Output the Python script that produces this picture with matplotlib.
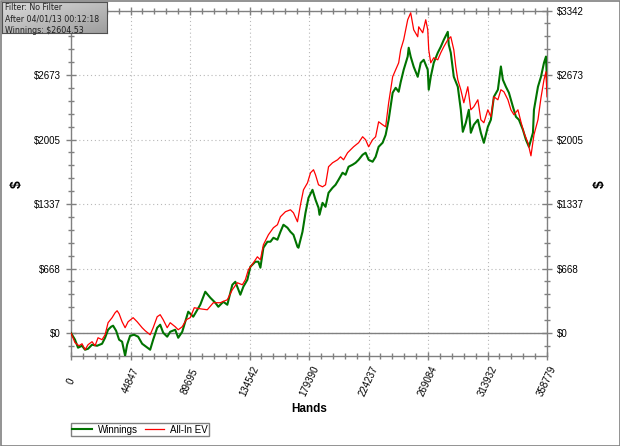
import numpy as np
import matplotlib
matplotlib.use("Agg")
import matplotlib.pyplot as plt
from matplotlib.patches import Rectangle
from matplotlib.ticker import MultipleLocator

plt.rcParams['font.family'] = ['Liberation Sans', 'DejaVu Sans']

# hands / winnings
win_hands = [0, 3021, 5287, 8308, 10574, 12840, 15861, 19638, 23414, 25680, 27946, 30212, 31723,
             33989, 36254, 38520, 40786, 42297, 44563, 47584, 50605, 53627, 56648, 59669, 61935,
             64956, 67222, 69488, 72509, 74775, 78551, 80817, 83839, 86105, 88370, 92147, 95168,
             97434, 101210, 104987, 108763, 111029, 114806, 117827, 121604, 123870, 127646, 129912,
             132933, 135199, 138975, 141241, 142752, 145018, 148039, 150305, 152571, 155592, 157858,
             160124, 163145, 165411, 167677, 170698, 171454, 174475, 176741, 179006, 182027, 184293,
             186559, 187314, 189580, 191846, 194112, 197133, 199399, 201665, 204686, 206952, 209218,
             212239, 214505, 216771, 219792, 222058, 224324, 227345, 229611, 231877, 234898, 237164,
             239430, 242451, 244717, 246983, 248494, 250760, 253781, 254536, 256047, 258313, 261334,
             263600, 265866, 268887, 269643, 271153, 273419, 276441, 278707, 280972, 283994, 284749,
             286260, 288526, 291547, 293813, 295324, 297590, 299855, 301366, 303632, 306653, 308919,
             311185, 314206, 316472, 318738, 321759, 324025, 325536, 327802, 330067, 333088, 335354,
             337620, 340642, 342907, 345173, 348194, 348950, 351971, 354237, 356503, 358014, 358779]
winnings = [0, -69, -152, -132, -173, -163, -121, -132, -111, -49, 34, 65, 76,
            24, -69, -90, -235, -121, -28, -18, -38, -111, -142, -173, -69,
            55, 86, 3, -38, 13, 34, -49, 13, 117, 221, 169, 241,
            293, 428, 366, 314, 272, 324, 293, 500, 531, 397, 480,
            552, 687, 739, 739, 677, 884, 946, 946, 987, 967, 1049,
            1122, 1091, 1049, 1018, 894, 884, 1049, 1246, 1401, 1484, 1381,
            1298, 1225, 1349, 1308, 1453, 1505, 1536, 1588, 1661, 1640, 1723,
            1744, 1764, 1795, 1847, 1868, 1795, 1775, 1826, 1930, 1972, 2054,
            2210, 2490, 2541, 2500, 2600, 2728, 2865, 2956, 2863, 2759, 2655,
            2800, 2831, 2728, 2521, 2655, 2800, 2904, 2966, 3038, 3121, 2987,
            2904, 2655, 2552, 2313, 2085, 2179, 2313, 2075, 2158, 2210, 2075,
            1971, 2137, 2210, 2448, 2521, 2762, 2624, 2552, 2490, 2345, 2241,
            2210, 2106, 2002, 1930, 2075, 2313, 2552, 2655, 2800, 2865, 2604.53]

ev_hands = [0, 3021, 6042, 8308, 10574, 12840, 15861, 18127, 20393, 23414, 25680, 27946, 30967,
            33233, 34744, 36254, 38520, 40786, 43052, 46829, 49850, 53627, 55893, 59669, 61935,
            64956, 67222, 69488, 72509, 74775, 78551, 80817, 83839, 86860, 89881, 92902, 97434,
            102721, 107253, 112540, 117827, 121604, 125380, 129157, 131423, 133689, 137465, 140487,
            142752, 145018, 148795, 152571, 155592, 157858, 161634, 165411, 167677, 170698, 172964,
            175230, 178251, 180517, 182783, 184293, 186559, 189580, 191846, 194112, 197133, 200909,
            203175, 205441, 208462, 210728, 212994, 216771, 219792, 222058, 224324, 227345, 229611,
            231877, 234898, 237164, 239430, 242451, 244717, 246983, 248494, 250760, 253781, 256047,
            258313, 261334, 262089, 265110, 267376, 268887, 269643, 271153, 273419, 276441, 278707,
            280972, 283994, 286260, 288526, 290036, 291547, 293813, 296079, 299100, 301366, 303632,
            306653, 308919, 311185, 314206, 316472, 318738, 321759, 324025, 326291, 329312, 331578,
            333844, 336865, 339131, 341397, 344418, 346684, 348950, 351971, 354237, 356503, 358014,
            358779]
allin_ev = [0, -100, -132, -111, -173, -121, -90, -132, -49, -69, -18, 107, 159,
            210, 231, 200, 117, 55, 117, 159, 117, 55, 24, -18, 55,
            169, 190, 138, 55, 107, 65, 34, 65, 138, 159, 262, 251,
            241, 314, 314, 345, 449, 521, 500, 552, 656, 728, 790,
            759, 915, 1018, 1091, 1122, 1205, 1257, 1277, 1246, 1153, 1329,
            1484, 1556, 1660, 1692, 1640, 1536, 1515, 1536, 1723, 1764, 1795,
            1826, 1795, 1868, 1899, 1930, 1972, 2034, 2003, 1930, 2003, 2034,
            2189, 2158, 2137, 2386, 2656, 2728, 2800, 2935, 3039, 3246, 3318,
            3142, 3070, 3173, 3111, 3246, 3142, 2935, 2800, 2852, 2831, 2904,
            2966, 3039, 3070, 2935, 2759, 2624, 2521, 2386, 2552, 2313, 2345,
            2417, 2210, 2179, 2313, 2241, 2448, 2417, 2521, 2500, 2417, 2313,
            2262, 2313, 2189, 2075, 1971, 1836, 2054, 2210, 2438, 2624, 2707,
            2448]

max_hands = 358779
y_top = 3342
x_tick_labels = ['0', '44847', '89695', '134542', '179390', '224237', '269084', '313932', '358779']
y_tick_labels = ['$0', '$668', '$1337', '$2005', '$2673', '$3342']
info = ['Filter: No Filter', 'After 04/01/13 00:12:18', 'Winnings: $2604.53']

gray = '#808080'

fig = plt.figure(figsize=(6.2, 4.46), dpi=100)
ax = fig.add_axes([71 / 620, 1 - 356 / 446, 476 / 620, 345.5 / 446])

ax.plot(win_hands, winnings, color='#007300', lw=1.5, label='Winnings', zorder=3)
ax.plot(ev_hands, allin_ev, color='#ff0000', lw=0.9, label='All-In EV', zorder=3)
ax.axhline(0, color=gray, lw=1.0, zorder=2)

ax.set_xlim(0, max_hands)
ax.set_ylim(-238, y_top)

xt = np.linspace(0, max_hands, 9)
yt = np.linspace(0, y_top, 6)
ax.set_xticks(xt, x_tick_labels)
ax.set_yticks(yt, y_tick_labels)
ax.xaxis.set_minor_locator(MultipleLocator(max_hands / 40))
ax.yaxis.set_minor_locator(MultipleLocator(y_top / 25))

ax.grid(True, which='major', color='#b8b8b8', linestyle=(0, (1, 2.5)), lw=0.8)
for s in ax.spines.values():
    s.set_color(gray)
    s.set_linewidth(1.0)

ax.tick_params(axis='both', which='both', colors=gray, labelcolor='black', labelsize=7)
ax.tick_params(axis='y', which='major', direction='inout', length=7, width=1, left=True, right=True,
               labelleft=True, labelright=True, pad=3.8)
ax.tick_params(axis='y', which='minor', direction='inout', length=4, width=1, left=True, right=True)
ax.tick_params(axis='x', which='major', direction='inout', length=6, width=1, top=True, pad=15)
ax.tick_params(axis='x', which='minor', direction='inout', length=4, width=1, top=True)
for lbl in ax.get_xticklabels():
    lbl.set_rotation(65)
    lbl.set_ha('center')
    lbl.set_va('center')
# the left top label sits under the info box
ax.yaxis.get_major_ticks()[-1].label1.set_visible(False)

fig.text(309 / 620, 1 - 409 / 446, 'Hands', fontsize=8.5, fontweight='bold', ha='center', va='center')
fig.text(17 / 620, 1 - 184 / 446, '$', fontsize=10, fontweight='bold', rotation=90, ha='center', va='center')
fig.text(600 / 620, 1 - 184 / 446, '$', fontsize=10, fontweight='bold', rotation=90, ha='center', va='center')

fig.legend(loc='lower left', bbox_to_anchor=(71 / 620, 1 - 436 / 446), ncol=2, fontsize=7,
           frameon=True, fancybox=False, edgecolor=gray, framealpha=1, borderaxespad=0,
           borderpad=0.15, handlelength=2.0, handletextpad=0.6, columnspacing=0.7)

# info box with a light grey gradient
bx = fig.add_axes([2 / 620, 1 - 33 / 446, 105 / 620, 31 / 446])
gx, gy = np.meshgrid(np.linspace(0, 1, 60), np.linspace(0, 1, 20))
shade = 0.86 - 0.12 * gx - 0.12 * gy
bx.imshow(np.dstack([shade, shade, shade]), aspect='auto', extent=[0, 1, 0, 1], origin='upper')
bx.set_xlim(0, 1)
bx.set_ylim(0, 1)
bx.set_xticks([])
bx.set_yticks([])
for s in bx.spines.values():
    s.set_color('#505050')
    s.set_linewidth(0.8)
bx.text(0.03, 0.45, '\n'.join(info), fontsize=5.7, family='DejaVu Sans', color='#202020',
        ha='left', va='center', linespacing=1.3)

fig.patches.append(Rectangle((0.5 / 620, 0.5 / 446), 619 / 620, 445 / 446, transform=fig.transFigure,
                             fill=False, edgecolor=gray, lw=1.2))

fig.savefig('out.png', dpi=100)
